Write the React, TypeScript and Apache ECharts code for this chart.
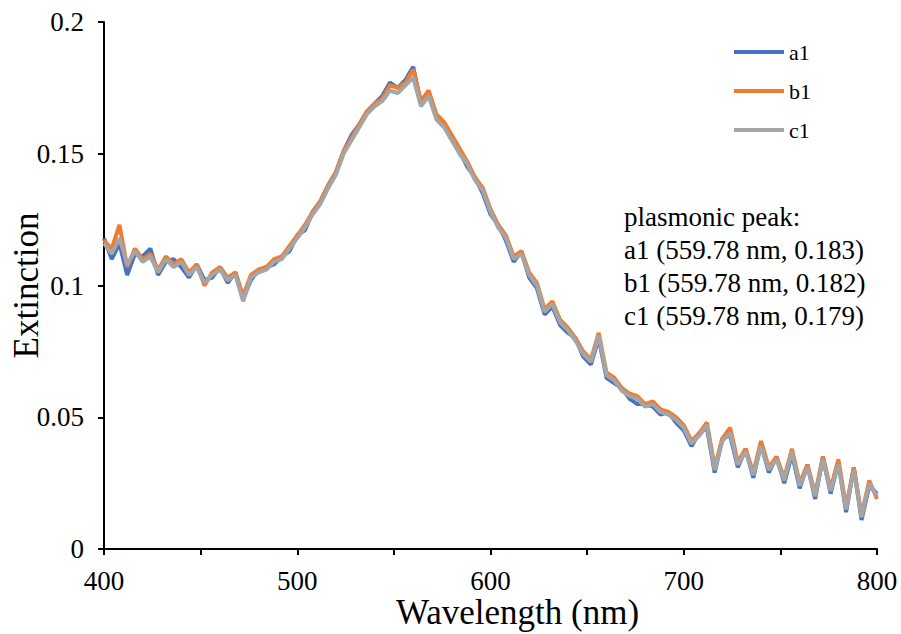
import React, { useEffect, useRef } from "react";
import * as echarts from "echarts";

const wavelengths = [
  400, 404, 408, 412, 416, 420, 424, 428, 432, 436, 440, 444, 448, 452, 456, 460, 464, 468, 472, 476,
  480, 484, 488, 492, 496, 500, 504, 508, 512, 516, 520, 524, 528, 532, 536, 540, 544, 548, 552, 556,
  560, 564, 568, 572, 576, 580, 584, 588, 592, 596, 600, 604, 608, 612, 616, 620, 624, 628, 632, 636,
  640, 644, 648, 652, 656, 660, 664, 668, 672, 676, 680, 684, 688, 692, 696, 700, 704, 708, 712, 716,
  720, 724, 728, 732, 736, 740, 744, 748, 752, 756, 760, 764, 768, 772, 776, 780, 784, 788, 792, 796, 800,
];

const a1 = [
  0.118, 0.110, 0.116, 0.104, 0.112, 0.111, 0.114, 0.104, 0.109, 0.110, 0.107, 0.103, 0.108, 0.102, 0.103, 0.107, 0.101, 0.105, 0.095, 0.102,
  0.106, 0.107, 0.108, 0.111, 0.113, 0.119, 0.121, 0.128, 0.132, 0.138, 0.143, 0.151, 0.157, 0.161, 0.166, 0.169, 0.172, 0.177, 0.175, 0.178,
  0.183, 0.169, 0.173, 0.164, 0.161, 0.156, 0.151, 0.145, 0.141, 0.135, 0.127, 0.123, 0.117, 0.109, 0.113, 0.103, 0.099, 0.089, 0.092, 0.085,
  0.082, 0.080, 0.073, 0.070, 0.080, 0.065, 0.063, 0.061, 0.057, 0.055, 0.055, 0.054, 0.051, 0.052, 0.048, 0.045, 0.039, 0.044, 0.046, 0.029,
  0.042, 0.043, 0.031, 0.038, 0.027, 0.040, 0.029, 0.035, 0.025, 0.036, 0.023, 0.032, 0.019, 0.035, 0.021, 0.033, 0.014, 0.031, 0.011, 0.024, 0.021,
];

const b1 = [
  0.117, 0.114, 0.123, 0.107, 0.114, 0.110, 0.112, 0.106, 0.111, 0.108, 0.110, 0.105, 0.108, 0.100, 0.105, 0.107, 0.103, 0.105, 0.096, 0.104,
  0.106, 0.107, 0.110, 0.111, 0.115, 0.119, 0.123, 0.128, 0.132, 0.138, 0.143, 0.151, 0.156, 0.161, 0.166, 0.169, 0.171, 0.176, 0.175, 0.177,
  0.182, 0.170, 0.174, 0.165, 0.162, 0.157, 0.152, 0.147, 0.141, 0.137, 0.129, 0.123, 0.119, 0.111, 0.113, 0.105, 0.101, 0.091, 0.094, 0.087,
  0.084, 0.080, 0.075, 0.072, 0.082, 0.067, 0.065, 0.061, 0.059, 0.058, 0.055, 0.056, 0.053, 0.052, 0.050, 0.047, 0.041, 0.044, 0.048, 0.031,
  0.042, 0.046, 0.033, 0.038, 0.029, 0.041, 0.031, 0.035, 0.027, 0.038, 0.025, 0.032, 0.021, 0.035, 0.023, 0.034, 0.016, 0.031, 0.013, 0.026, 0.019,
];

const c1 = [
  0.116, 0.112, 0.118, 0.108, 0.113, 0.109, 0.111, 0.105, 0.110, 0.107, 0.109, 0.104, 0.107, 0.101, 0.104, 0.106, 0.102, 0.104, 0.094, 0.103,
  0.105, 0.106, 0.109, 0.110, 0.114, 0.118, 0.122, 0.127, 0.131, 0.137, 0.142, 0.150, 0.155, 0.160, 0.165, 0.168, 0.170, 0.174, 0.173, 0.176,
  0.179, 0.168, 0.172, 0.163, 0.160, 0.155, 0.150, 0.146, 0.140, 0.136, 0.128, 0.122, 0.118, 0.110, 0.112, 0.104, 0.100, 0.090, 0.093, 0.086,
  0.083, 0.079, 0.074, 0.071, 0.081, 0.066, 0.064, 0.060, 0.058, 0.057, 0.054, 0.055, 0.052, 0.051, 0.049, 0.046, 0.040, 0.043, 0.047, 0.030,
  0.041, 0.044, 0.032, 0.037, 0.028, 0.039, 0.030, 0.034, 0.026, 0.037, 0.024, 0.031, 0.020, 0.034, 0.022, 0.032, 0.015, 0.030, 0.012, 0.025, 0.020,
];

const seriesNames = ["a1", "b1", "c1"];
const seriesColors = ["#4472C4", "#ED7D31", "#A5A5A5"];
const annotationLines = [
  "plasmonic peak:",
  "a1 (559.78 nm, 0.183)",
  "b1 (559.78 nm, 0.182)",
  "c1 (559.78 nm, 0.179)",
];

const FONT = "Liberation Serif";

export default function App() {
  const ref = useRef<HTMLDivElement>(null);
  useEffect(() => {
    document.body.style.margin = "0";
    if (!ref.current) return;
    const chart = echarts.init(ref.current, null, { renderer: "svg" });
    const all = [a1, b1, c1];
    chart.setOption({
      animation: false,
      backgroundColor: "#ffffff",
      textStyle: { fontFamily: FONT },
      grid: {
        left: 104,
        right: 24,
        top: 22,
        bottom: 85,
        containLabel: false,
        outerBoundsMode: "none",
      },
      legend: {
        data: seriesNames.map((n) => ({ name: n, icon: "rect" })),
        orient: "vertical",
        left: 734,
        top: 41,
        padding: 0,
        itemWidth: 50,
        itemHeight: 4,
        itemGap: 17,
        textStyle: { fontFamily: FONT, fontSize: 22, color: "#000" },
      },
      xAxis: {
        type: "value",
        min: 400,
        max: 800,
        interval: 50,
        name: "Wavelength (nm)",
        nameLocation: "middle",
        nameGap: 46,
        nameMoveOverlap: false,
        nameTextStyle: { fontFamily: FONT, fontSize: 35, color: "#000", padding: [0, 0, 0, 54] },
        axisLine: { lineStyle: { color: "#000", width: 2 } },
        axisTick: { length: 6, lineStyle: { color: "#000", width: 2 } },
        axisLabel: {
          fontFamily: FONT,
          fontSize: 27,
          color: "#000",
          margin: 18,
          formatter: (v: number) => (v % 100 === 0 ? String(v) : ""),
        },
        splitLine: { show: false },
      },
      yAxis: {
        type: "value",
        min: 0,
        max: 0.2,
        interval: 0.05,
        name: "Extinction",
        nameLocation: "middle",
        nameGap: 60,
        nameMoveOverlap: false,
        nameTextStyle: { fontFamily: FONT, fontSize: 35, color: "#000" },
        axisLine: { show: true, lineStyle: { color: "#000", width: 2 } },
        axisTick: { show: true, length: 6, lineStyle: { color: "#000", width: 2 } },
        axisLabel: { fontFamily: FONT, fontSize: 27, color: "#000", margin: 20 },
        splitLine: { show: false },
      },
      series: seriesNames.map((name, k) => ({
        name,
        type: "line",
        symbol: "none",
        showSymbol: false,
        color: seriesColors[k],
        itemStyle: { color: seriesColors[k] },
        lineStyle: { width: 4, color: seriesColors[k] },
        data: wavelengths.map((w, i) => [w, all[k][i]]),
        z: 2 + k,
      })),
      graphic: [
        {
          type: "text",
          left: 624,
          top: 200,
          style: {
            text: annotationLines.join("\n"),
            fontFamily: FONT,
            fontSize: 27,
            lineHeight: 33,
            fill: "#000",
          },
        },
      ],
    });
    return () => chart.dispose();
  }, []);
  return <div ref={ref} style={{ width: 901, height: 634 }} />;
}
